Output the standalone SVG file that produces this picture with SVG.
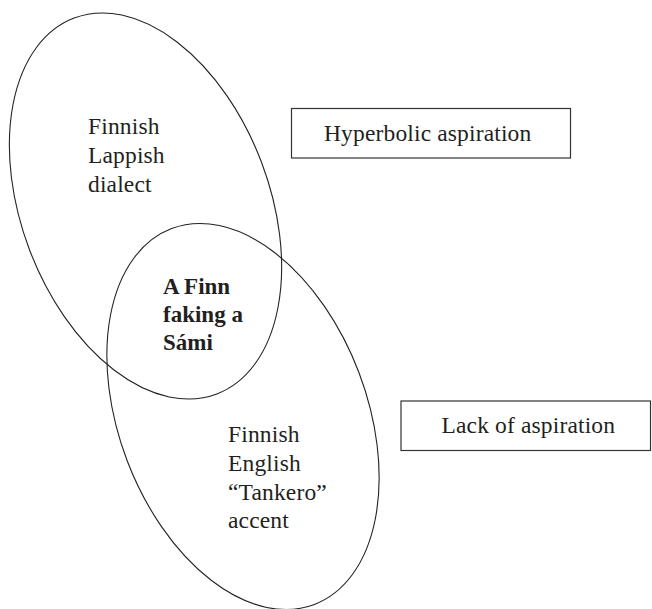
<svg xmlns="http://www.w3.org/2000/svg" width="652" height="609" viewBox="0 0 652 609">
<style>
.shape{fill:none;stroke:#222;stroke-width:1.1}
.box{fill:#fff;stroke:#333;stroke-width:1.2}
.t{font-family:"Liberation Serif","Times New Roman",serif;font-size:23.5px;fill:#231f20;letter-spacing:0.15px}
.b{font-weight:bold;font-size:23px;letter-spacing:0}
</style>
<rect width="652" height="609" fill="#fff"/>
<g id="finnish-lappish-dialect">
<ellipse class="shape" cx="145.5" cy="206" rx="124" ry="201" transform="rotate(-20.8 145.5 206)"/>
<text class="t" x="88" y="133.5">Finnish</text>
<text class="t" x="88" y="162.5">Lappish</text>
<text class="t" x="88" y="191.5">dialect</text>
</g>
<g id="finnish-english-accent">
<ellipse class="shape" cx="243" cy="416.5" rx="124" ry="201" transform="rotate(-20.8 243 416.5)"/>
<text class="t" x="228" y="441.5">Finnish</text>
<text class="t" x="228" y="470.5">English</text>
<text class="t" x="228" y="499.5">“Tankero”</text>
<text class="t" x="228" y="528">accent</text>
</g>
<g id="finn-faking-sami">
<text class="t b" x="163" y="294">A Finn</text>
<text class="t b" x="163" y="322">faking a</text>
<text class="t b" x="163" y="350">Sámi</text>
</g>
<g id="hyperbolic-aspiration">
<rect class="box" x="291.5" y="108.5" width="279" height="49.5"/>
<text class="t" x="324" y="140.5">Hyperbolic aspiration</text>
</g>
<g id="lack-of-aspiration">
<rect class="box" x="401" y="401" width="249.5" height="49.5"/>
<text class="t" x="441.5" y="433">Lack of aspiration</text>
</g>
<g id="connectors"/>
</svg>
